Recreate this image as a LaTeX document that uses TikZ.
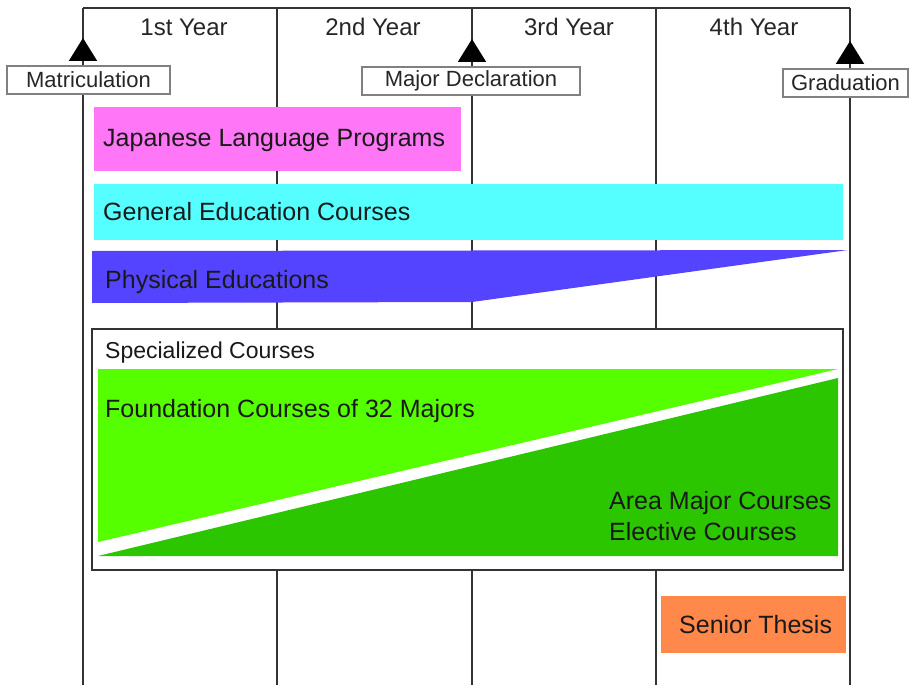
\documentclass[tikz,border=0pt]{standalone}
\usepackage{fontspec}
\setmainfont{Liberation Sans}
\usetikzlibrary{positioning,arrows.meta}
\tikzset{>={Triangle[width=28pt,length=23pt,color=black]}}

\definecolor{gridgray}{HTML}{333333}
\definecolor{jlpmagenta}{HTML}{FF77F6}
\definecolor{gecyan}{HTML}{55FFFF}
\definecolor{peblue}{HTML}{5544FF}
\definecolor{fclight}{HTML}{55FF00}
\definecolor{amdark}{HTML}{2CC600}
\definecolor{thesisorange}{HTML}{FF884A}

\tikzset{
  grid/.style={gridgray,line width=2pt},
  yearlabel/.style={font=\fontsize{24}{28}\selectfont,text=black!85,inner sep=0pt,anchor=base},
  milestone/.style={draw=gray,line width=1.2pt,fill=white,inner sep=0pt,minimum height=28pt,
    font=\fontsize{22}{26}\selectfont,text=black!85},
  bandlabel/.style={font=\fontsize{25}{30}\selectfont,text=black!90,inner sep=0pt,anchor=base west}
}

\begin{document}
\begin{tikzpicture}[x=1pt,y=-1pt]
\useasboundingbox (0,0) rectangle (913,685);

% Year grid
\draw[grid] (83,8) -- (850,8);
\foreach \x in {83,277,472,656,850}
  \draw[grid] (\x,8) -- (\x,685);

\node[yearlabel] (year1) at (184,36) {1st Year};
\node[yearlabel] (year2) at (373,36) {2nd Year};
\node[yearlabel] (year3) at (569,36) {3rd Year};
\node[yearlabel] (year4) at (754,36) {4th Year};

% Milestones
\coordinate (matrictip) at (83,38);
\coordinate (declaretip) at (472,39);
\coordinate (gradtip) at (850,41);

\node[milestone,minimum width=163pt] (matric) at (88.5,80) {Matriculation};
\node[milestone,minimum width=218pt] (declare) at (471,81) {Major Declaration};
\node[milestone,minimum width=125pt] (grad) at (845.5,83) {Graduation};

\draw[grid,->] (matric.north -| matrictip) -- (matrictip);
\draw[grid,->] (declare.north -| declaretip) -- (declaretip);
\draw[grid,->] (grad.north -| gradtip) -- (gradtip);

% Course bands
\fill[jlpmagenta] (94,107) rectangle (461,171);
\node[bandlabel] (jlp) at (103,146) {Japanese Language Programs};

\fill[gecyan] (94,184) rectangle (843,240);
\node[bandlabel] (gen) at (103,220) {General Education Courses};

\fill[peblue] (92,251) -- (848,250) -- (472,302) -- (92,303) -- cycle;
\node[bandlabel] (phys) at (105,288) {Physical Educations};

% Specialized courses
\draw[gridgray,line width=1.6pt,fill=white] (92,329) rectangle (843,570);
\node[bandlabel,font=\fontsize{23}{28}\selectfont] (spec) at (105,358) {Specialized Courses};

\fill[fclight] (98,369) -- (838,369) -- (98,542) -- cycle;
\fill[amdark] (98,556) -- (838,378) -- (838,556) -- cycle;
\node[bandlabel] (found) at (105,417) {Foundation Courses of 32 Majors};
\node[bandlabel] (area) at (609,509) {Area Major Courses};
\node[bandlabel] (elect) at (609,540) {Elective Courses};

\fill[thesisorange] (661,596) rectangle (846,653);
\node[bandlabel] (thesis) at (679,633) {Senior Thesis};

\end{tikzpicture}
\end{document}
